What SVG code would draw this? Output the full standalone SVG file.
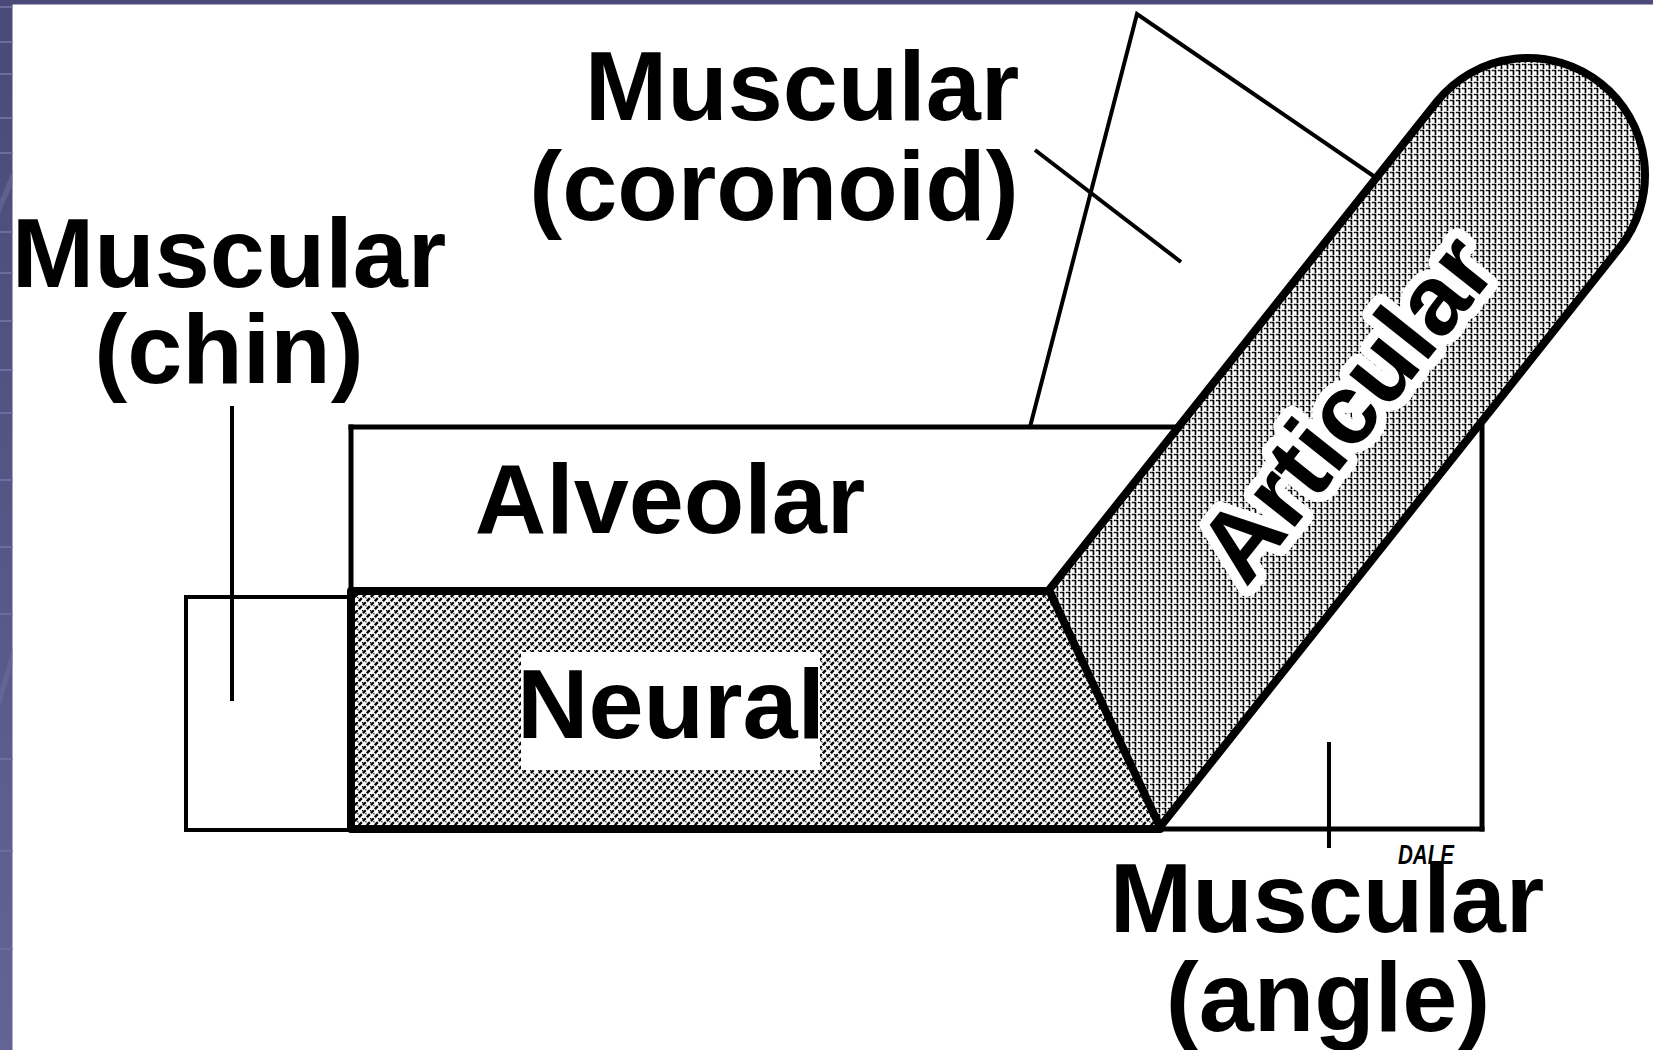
<svg xmlns="http://www.w3.org/2000/svg" width="1653" height="1050" viewBox="0 0 1653 1050">
<defs>
<style>
.lbl{font-family:"Liberation Sans",Arial,Helvetica,sans-serif;font-weight:bold;font-size:99px;fill:#000;text-anchor:middle}
.thin{stroke:#000;stroke-width:4;fill:none;stroke-linecap:square}
.med{stroke:#000;stroke-width:5;fill:none;stroke-linecap:square}
.thick{stroke:#000;stroke-width:8;fill:none;stroke-linejoin:round;stroke-linecap:round}
.lead{stroke:#000;stroke-width:4;fill:none;stroke-linejoin:miter}
.stripe{fill:#6c6c9e}
.halo{stroke:#fff;stroke-width:20;stroke-linejoin:round;paint-order:stroke}
</style>
<linearGradient id="band" x1="0" y1="0" x2="0" y2="1">
<stop offset="0" stop-color="#4a4a78"/>
<stop offset="1" stop-color="#636395"/>
</linearGradient>
<pattern id="neuralHatch" patternUnits="userSpaceOnUse" width="8" height="8">
<rect width="8" height="8" fill="#fff"/>
<path d="M-1,9 L9,-1 M-1,1 L1,-1 M7,9 L9,7" stroke="#000" stroke-width="2.3" stroke-dasharray="4 1.5"/>
<path d="M-1,-1 L9,9" stroke="#000" stroke-width="1.1" stroke-dasharray="1.5 3"/>
</pattern>
<pattern id="articHatch" patternUnits="userSpaceOnUse" width="6" height="6">
<rect width="6" height="6" fill="#fff"/>
<path d="M1.5,0 V6" stroke="#000" stroke-width="1.7" stroke-dasharray="3 1.2"/>
<path d="M0,4.5 H6" stroke="#000" stroke-width="1.4" stroke-dasharray="2 1.8"/>
</pattern>
</defs>

<g id="background">
<rect x="0" y="0" width="1653" height="1050" fill="#fff"/>
<rect x="0" y="0" width="1653" height="4.5" fill="#4b4b79"/>
<rect x="0" y="0" width="12.5" height="1050" fill="url(#band)"/>
<rect class="stripe" x="0" y="6" width="12.5" height="2"/>
<rect class="stripe" x="0" y="41" width="12.5" height="2"/>
<rect class="stripe" x="0" y="73" width="12.5" height="2"/>
<rect class="stripe" x="0" y="117" width="12.5" height="2"/>
<rect class="stripe" x="0" y="152" width="12.5" height="2"/>
<rect class="stripe" x="0" y="231" width="12.5" height="2"/>
<rect class="stripe" x="0" y="272" width="12.5" height="2"/>
<rect class="stripe" x="0" y="320" width="12.5" height="2"/>
<rect class="stripe" x="0" y="369" width="12.5" height="2"/>
<rect class="stripe" x="0" y="412" width="12.5" height="2"/>
<rect class="stripe" x="0" y="479" width="12.5" height="2"/>
<rect class="stripe" x="0" y="546" width="12.5" height="2"/>
<rect class="stripe" x="0" y="613" width="12.5" height="2"/>
<rect class="stripe" x="0" y="758" width="12.5" height="2"/>
<rect class="stripe" x="0" y="850" width="12.5" height="2"/>
<rect class="stripe" x="0" y="948" width="12.5" height="2"/>
<polygon points="12.5,170 12.5,185 0,213 0,200" fill="#6a6a9c" opacity="0.6"/>
<polygon points="12.5,648 12.5,665 0,708 0,690" fill="#6a6a9c" opacity="0.6"/>
</g>

<g id="node-chin">
<rect class="thin" x="186" y="597" width="165" height="233" stroke-width="3.5"/>
<text class="lbl" x="229" y="287">Muscular</text>
<text class="lbl" x="229" y="383">(chin)</text>
</g>

<g id="node-alveolar">
<line class="med" x1="351" y1="427" x2="1200" y2="427"/>
<line class="med" x1="351" y1="427" x2="351" y2="592"/>
<text class="lbl" x="670" y="533">Alveolar</text>
</g>

<g id="node-angle">
<line class="med" x1="1160" y1="829" x2="1482" y2="829" stroke-width="4.5"/>
<line class="med" x1="1482" y1="425" x2="1482" y2="829"/>
<text class="lbl" x="1327" y="932">Muscular</text>
<text class="lbl" x="1328" y="1031">(angle)</text>
<text x="1398" y="864" font-family="'Liberation Sans',Arial,sans-serif" font-weight="bold" font-style="italic" font-size="28" textLength="56" lengthAdjust="spacingAndGlyphs">DALE</text>
</g>

<g id="node-neural">
<polygon points="351,591 1049,591 1160,827 351,827" fill="url(#neuralHatch)"/>
<rect x="521" y="652" width="299" height="118" fill="#fff"/>
<text class="lbl" x="671" y="738">Neural</text>
<path class="thick" d="M351,591 L1049,591 M351,591 L351,829 L1160,829" stroke-width="7"/>
</g>

<g id="node-articular">
<path d="M1049,590 L1436.4,102.2 A117,117 0 0 1 1619.6,247.8 L1160,827 Z" fill="url(#articHatch)" stroke="#000" stroke-width="8" stroke-linejoin="round"/>
<g transform="translate(1346,408) rotate(-51.5)">
<text class="lbl halo" x="0" y="34">Articular</text>
</g>
</g>

<g id="node-coronoid">
<text class="lbl" x="802" y="120">Muscular</text>
<text class="lbl" x="774" y="220">(coronoid)</text>
</g>

<g id="connectors">
<polyline class="lead" points="1030,427 1137,14 1375,177"/>
<line class="lead" x1="1035" y1="150" x2="1181" y2="262"/>
<line class="lead" x1="232" y1="406" x2="232" y2="701"/>
<line class="lead" x1="1329" y1="742" x2="1329" y2="848"/>
</g>
</svg>
